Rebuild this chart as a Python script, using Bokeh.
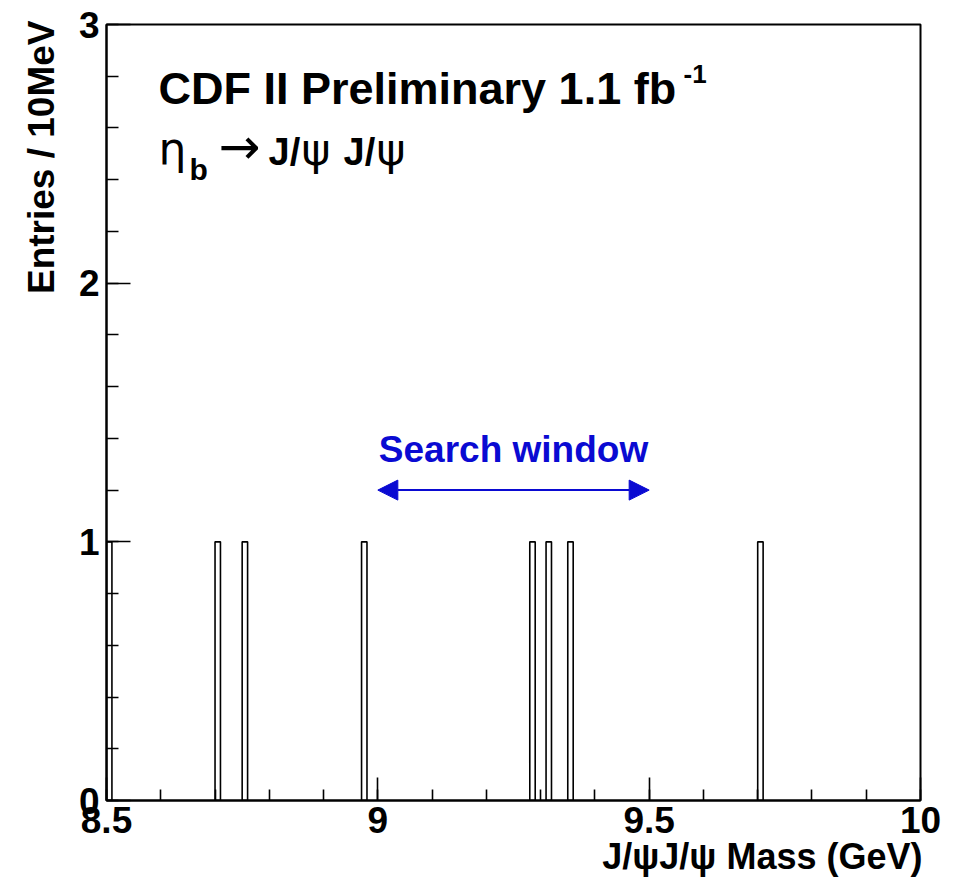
import numpy as np
from bokeh.plotting import figure
from bokeh.models import (Range1d, SingleIntervalTicker, CustomJSTickFormatter,
                          Label, Arrow, NormalHead, ColumnDataSource, Title)
from bokeh.embed import file_html
from bokeh.resources import INLINE

# ---- data ----
bin_low_edges = [8.50, 8.70, 8.75, 8.97, 9.28, 9.31, 9.35, 9.70]
bin_counts = [1, 1, 1, 1, 1, 1, 1, 1]
bin_width = 0.01          # 10 MeV bins
x_limits = (8.5, 10.0)
y_limits = (0.0, 3.0)
search_window = (9.0, 9.5)
search_arrow_y = 1.2
x_title = "J/\u03c8J/\u03c8 Mass (GeV)"
y_title = "Entries / 10MeV"

FONT = "Liberation Sans"
GREEK = "DejaVu Sans"
BLUE = "#0a0ad2"

left = np.array(bin_low_edges)
src = ColumnDataSource(dict(left=left, right=left + bin_width,
                            bottom=np.zeros(len(left)), top=np.array(bin_counts)))

p = figure(width=950, height=878, output_backend="svg", toolbar_location=None,
           x_range=Range1d(*x_limits), y_range=Range1d(*y_limits),
           min_border_left=106, min_border_right=30, min_border_top=24, min_border_bottom=78)
p.xgrid.visible = False
p.ygrid.visible = False
p.background_fill_color = "white"
p.border_fill_color = "white"
p.outline_line_color = "black"
p.outline_line_width = 2

p.quad(left="left", right="right", bottom="bottom", top="top", source=src,
       fill_color=None, line_color="black", line_width=1.6)

fmt = CustomJSTickFormatter(code="return String(Math.round(tick*10)/10);")
for ax, tk in ((p.xaxis[0], SingleIntervalTicker(interval=0.5, num_minor_ticks=5)),
               (p.yaxis[0], SingleIntervalTicker(interval=1, num_minor_ticks=5))):
    ax.ticker = tk
    ax.formatter = fmt
    ax.axis_line_width = 2
    ax.major_tick_line_width = 1.6
    ax.minor_tick_line_width = 1.6
    ax.major_tick_out = 0
    ax.minor_tick_out = 0
    ax.major_label_text_font = FONT
    ax.major_label_text_font_style = "bold"
    ax.major_label_text_font_size = "37px"
    ax.major_label_text_color = "black"
p.xaxis.major_tick_in = 23
p.xaxis.minor_tick_in = 11
p.yaxis.major_tick_in = 24
p.yaxis.minor_tick_in = 12
p.xaxis.major_label_standoff = 6
p.yaxis.major_label_standoff = 7

# axis titles as side-panel titles, right/top aligned like ROOT
p.add_layout(Title(text=x_title, align="right", offset=-2, standoff=-4,
                   text_font=FONT, text_font_style="bold", text_font_size="36px",
                   text_color="black"), "below")
p.add_layout(Title(text=y_title, align="right", offset=-4, standoff=27,
                   text_font=FONT, text_font_style="bold", text_font_size="37px",
                   text_color="black"), "left")

def lab(text, x, y, size, bold=True, color="black", font=FONT, **kw):
    p.add_layout(Label(x=x, y=y, x_units="screen", y_units="screen", text=text,
                       text_font=font, text_font_size=f"{size}px",
                       text_font_style="bold" if bold else "normal",
                       text_color=color, text_baseline="alphabetic", **kw))

# Title lines
lab("CDF II Preliminary 1.1 fb", 52, 712, 45)
lab("-1", 577, 727, 26)
lab("\u03b7", 52, 652, 44, bold=False, font=GREEK)
lab("b", 83, 631, 30)
lab("\u2192", 112, 654, 50, bold=False, font=GREEK)
lab("J/", 162, 649, 38)
lab("\u03c8", 195, 651, 44, bold=False, font=GREEK)
lab("J/", 237, 649, 38)
lab("\u03c8", 270, 651, 44, bold=False, font=GREEK)

# Search window
p.add_layout(Arrow(x_start=search_window[0], x_end=search_window[1],
                   y_start=search_arrow_y, y_end=search_arrow_y,
                   line_color=BLUE, line_width=2,
                   start=NormalHead(size=20, fill_color=BLUE, line_color=BLUE),
                   end=NormalHead(size=20, fill_color=BLUE, line_color=BLUE)))
p.add_layout(Label(x=sum(search_window) / 2, y=search_arrow_y, x_units="data", y_units="data",
                   y_offset=41, text="Search window", text_align="center",
                   text_baseline="alphabetic", text_font=FONT, text_font_size="37px",
                   text_font_style="bold", text_color=BLUE))

open("out.html", "w").write(file_html(p, INLINE))
